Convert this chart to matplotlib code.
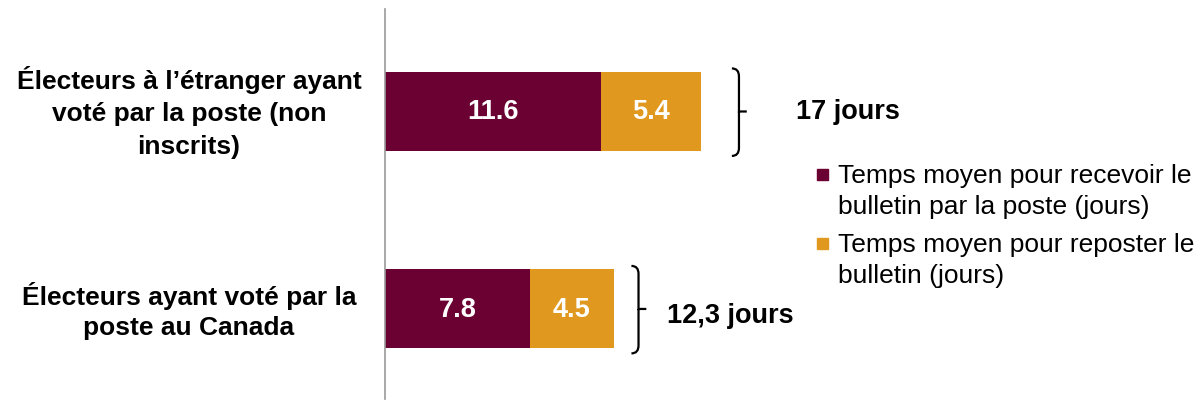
import matplotlib
matplotlib.use("Agg")
from matplotlib import pyplot as plt
from matplotlib.path import Path
from matplotlib.patches import PathPatch, Rectangle
import matplotlib.transforms as mtransforms

plt.rcParams['font.family'] = ['Liberation Sans', 'DejaVu Sans']

categories = ["Électeurs à l’étranger ayant\nvoté par la poste (non\ninscrits)",
              "Électeurs ayant voté par la\nposte au Canada"]
recevoir = [11.6, 7.8]
reposter = [5.4, 4.5]
totals_text = ["17 jours", "12,3 jours"]
series_names = ["Temps moyen pour recevoir le\nbulletin par la poste (jours)",
                "Temps moyen pour reposter le\nbulletin (jours)"]

maroon = "#6B0033"
gold = "#E0991E"

fig = plt.figure(figsize=(12.01, 4.02), dpi=100)
W, H = 1201, 402
# axis line at x=385 px, 18.6 px per day
ax = fig.add_axes([385 / W, 2 / H, (W - 385) / W, 390 / H])
ax.set_xlim(0, (W - 385) / 18.6)
ax.set_ylim(1.456, -0.519)

pos = [0, 1]
h = 0.40
ax.barh(pos, recevoir, height=h, color=maroon)
ax.barh(pos, reposter, left=recevoir, height=h, color=gold)

for i in range(len(pos)):
    ax.text(recevoir[i] / 2, pos[i], "{0}".format(recevoir[i]), color="white",
            fontsize=19.5, fontweight="bold", ha="center", va="center")
    ax.text(recevoir[i] + reposter[i] / 2, pos[i], "{0}".format(reposter[i]), color="white",
            fontsize=19.5, fontweight="bold", ha="center", va="center")

# braces
gaps = [1.65, 0.95]
text_gap = [2.65, 1.1]
for i in range(len(pos)):
    tot = recevoir[i] + reposter[i]
    x0 = tot + gaps[i]
    w = 0.38
    t = 0.42
    yt = pos[i] - 0.218
    yb = pos[i] + 0.225
    ym = pos[i]
    r = 0.04
    verts = [(x0, yt), (x0 + w, yt), (x0 + w, yt + r),
             (x0 + w, ym - 0.01), (x0 + w, ym), (x0 + w + t, ym),
             (x0 + w, ym), (x0 + w, ym + 0.01),
             (x0 + w, yb - r), (x0 + w, yb), (x0, yb)]
    codes = [Path.MOVETO, Path.CURVE3, Path.CURVE3,
             Path.LINETO, Path.LINETO, Path.LINETO,
             Path.MOVETO, Path.LINETO,
             Path.LINETO, Path.CURVE3, Path.CURVE3]
    ax.add_patch(PathPatch(Path(verts, codes), fill=False, lw=1.6, color="black",
                           capstyle="butt"))
    ax.text(x0 + w + t + text_gap[i], ym + (0.03 if i else 0.0), totals_text[i], fontsize=19.5,
            fontweight="bold", ha="left", va="center")

# category labels
trans = mtransforms.blended_transform_factory(fig.transFigure, ax.transData)
for i in range(len(pos)):
    fig.text(189 / W, pos[i] + (0.0 if i == 0 else 0.005), categories[i], transform=trans,
             fontsize=19, fontweight="bold", ha="center", va="center",
             linespacing=(1.47 if i == 0 else 1.3))

for s in ["top", "right", "bottom"]:
    ax.spines[s].set_visible(False)
ax.spines["left"].set_color("#999999")
ax.spines["left"].set_linewidth(1.2)
ax.set_xticks([])
ax.set_yticks([])

# legend, square marker next to the first line of each entry
colors = [maroon, gold]
leg_y = [175, 244]
for i in range(len(series_names)):
    fig.patches.append(Rectangle((817 / W, 1 - (leg_y[i] + 6) / H), 11 / W, 11 / H,
                                 transform=fig.transFigure, color=colors[i]))
    fig.text(838 / W, 1 - (leg_y[i] - 11) / H, series_names[i], fontsize=19,
             ha="left", va="top", linespacing=1.36)

plt.savefig("out.png", dpi=100)
